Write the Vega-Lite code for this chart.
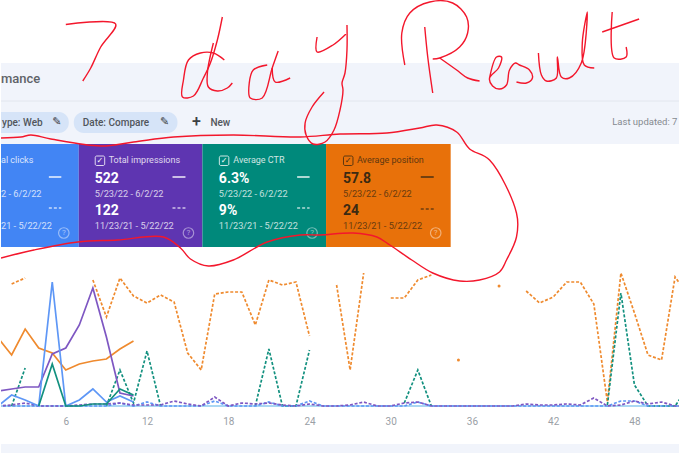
{
  "$schema": "https://vega.github.io/schema/vega-lite/v6.json",
  "width": 680,
  "height": 453,
  "padding": 0,
  "autosize": {"type": "fit", "contains": "padding"},
  "background": "#ffffff",
  "config": {"view": {"stroke": null}, "text": {"font": "Roboto"}},
  "datasets": {
    "bands": [
      {"part": "header", "x": 0, "x2": 680, "y": 63, "y2": 144},
      {"part": "footer", "x": 0, "x2": 680, "y": 444, "y2": 453}
    ],
    "cards": [
      {"card": "Clicks", "x": 0, "x2": 78, "y": 144, "y2": 247},
      {"card": "Impressions", "x": 78, "x2": 202, "y": 144, "y2": 247},
      {"card": "CTR", "x": 202, "x2": 326, "y": 144, "y2": 247},
      {"card": "Position", "x": 326, "x2": 451, "y": 144, "y2": 247}
    ],
    "pills": [
      {"label": "Type", "x": -30, "x2": 68, "y": 112, "y2": 133},
      {"label": "Date", "x": 73, "x2": 177, "y": 112, "y2": 133}
    ],
    "toolbar": [
      {"label": "ype: Web", "x": 1, "y": 122.5},
      {"label": "Date: Compare", "x": 82, "y": 122.5},
      {"label": "New", "x": 210, "y": 122.5}
    ],
    "pencils": [
      {"label": "✎", "x": 56, "y": 122},
      {"label": "✎", "x": 164, "y": 122}
    ],
    "checks": [
      {"card": "Impressions", "x": 94.5, "x2": 104, "y": 156, "y2": 165.5, "mx": 99.2, "my": 160.7},
      {"card": "CTR", "x": 219, "x2": 228.5, "y": 156, "y2": 165.5, "mx": 223.7, "my": 160.7},
      {"card": "Position", "x": 343.5, "x2": 353, "y": 156, "y2": 165.5, "mx": 348.2, "my": 160.7}
    ],
    "cardText": [
      {"card": "Clicks", "role": "title", "label": "al clicks", "x": 0, "y": 160},
      {"card": "Clicks", "role": "date", "label": "2 - 6/2/22", "x": 0, "y": 193.5},
      {"card": "Clicks", "role": "date", "label": "21 - 5/22/22", "x": 0, "y": 225.5},
      {"card": "Impressions", "role": "title", "label": "Total impressions", "x": 108, "y": 160},
      {"card": "Impressions", "role": "value", "label": "522", "x": 94, "y": 178.5},
      {"card": "Impressions", "role": "date", "label": "5/23/22 - 6/2/22", "x": 94, "y": 193.5},
      {"card": "Impressions", "role": "value", "label": "122", "x": 94, "y": 211},
      {"card": "Impressions", "role": "date", "label": "11/23/21 - 5/22/22", "x": 94, "y": 225.5},
      {"card": "CTR", "role": "title", "label": "Average CTR", "x": 233, "y": 160},
      {"card": "CTR", "role": "value", "label": "6.3%", "x": 218.5, "y": 178.5},
      {"card": "CTR", "role": "date", "label": "5/23/22 - 6/2/22", "x": 218.5, "y": 193.5},
      {"card": "CTR", "role": "value", "label": "9%", "x": 218.5, "y": 211},
      {"card": "CTR", "role": "date", "label": "11/23/21 - 5/22/22", "x": 218.5, "y": 225.5},
      {"card": "Position", "role": "title", "label": "Average position", "x": 357, "y": 160},
      {"card": "Position", "role": "value", "label": "57.8", "x": 343, "y": 178.5},
      {"card": "Position", "role": "date", "label": "5/23/22 - 6/2/22", "x": 343, "y": 193.5},
      {"card": "Position", "role": "value", "label": "24", "x": 343, "y": 211},
      {"card": "Position", "role": "date", "label": "11/23/21 - 5/22/22", "x": 343, "y": 225.5}
    ],
    "dashes": [
      {"card": "Clicks", "x": 48, "x2": 60.5, "solidY": 177, "dotY": 208, "helpX": 63, "helpY": 233},
      {"card": "Impressions", "x": 172, "x2": 185, "solidY": 177, "dotY": 208, "helpX": 188, "helpY": 233},
      {"card": "CTR", "x": 297, "x2": 309.5, "solidY": 177, "dotY": 208, "helpX": 312, "helpY": 233},
      {"card": "Position", "x": 421, "x2": 434, "solidY": 177, "dotY": 209, "helpX": 436, "helpY": 233}
    ],
    "series": [
      {"day": 1, "metric": "position", "period": "current", "value": 68},
      {"day": 2, "metric": "position", "period": "current", "value": 51},
      {"day": 3, "metric": "position", "period": "current", "value": 77},
      {"day": 4, "metric": "position", "period": "current", "value": 58},
      {"day": 5, "metric": "position", "period": "current", "value": 53},
      {"day": 6, "metric": "position", "period": "current", "value": 36},
      {"day": 7, "metric": "position", "period": "current", "value": 42},
      {"day": 8, "metric": "position", "period": "current", "value": 45},
      {"day": 9, "metric": "position", "period": "current", "value": 47},
      {"day": 10, "metric": "position", "period": "current", "value": 57},
      {"day": 11, "metric": "position", "period": "current", "value": 65},
      {"day": 1, "metric": "impressions", "period": "current", "value": 15},
      {"day": 2, "metric": "impressions", "period": "current", "value": 17},
      {"day": 3, "metric": "impressions", "period": "current", "value": 19},
      {"day": 4, "metric": "impressions", "period": "current", "value": 19},
      {"day": 5, "metric": "impressions", "period": "current", "value": 52},
      {"day": 6, "metric": "impressions", "period": "current", "value": 58},
      {"day": 7, "metric": "impressions", "period": "current", "value": 81},
      {"day": 8, "metric": "impressions", "period": "current", "value": 118},
      {"day": 9, "metric": "impressions", "period": "current", "value": 69},
      {"day": 10, "metric": "impressions", "period": "current", "value": 13},
      {"day": 11, "metric": "impressions", "period": "current", "value": 10},
      {"day": 1, "metric": "clicks", "period": "current", "value": 0},
      {"day": 2, "metric": "clicks", "period": "current", "value": 11},
      {"day": 3, "metric": "clicks", "period": "current", "value": 6},
      {"day": 4, "metric": "clicks", "period": "current", "value": 0},
      {"day": 5, "metric": "clicks", "period": "current", "value": 124},
      {"day": 6, "metric": "clicks", "period": "current", "value": 0},
      {"day": 7, "metric": "clicks", "period": "current", "value": 6},
      {"day": 8, "metric": "clicks", "period": "current", "value": 17},
      {"day": 9, "metric": "clicks", "period": "current", "value": 4},
      {"day": 10, "metric": "clicks", "period": "current", "value": 10},
      {"day": 11, "metric": "clicks", "period": "current", "value": 4},
      {"day": 4, "metric": "ctr", "period": "current", "value": 0},
      {"day": 5, "metric": "ctr", "period": "current", "value": 42},
      {"day": 6, "metric": "ctr", "period": "current", "value": 0},
      {"day": 7, "metric": "ctr", "period": "current", "value": 0},
      {"day": 8, "metric": "ctr", "period": "current", "value": 2},
      {"day": 9, "metric": "ctr", "period": "current", "value": 2},
      {"day": 10, "metric": "ctr", "period": "current", "value": 17},
      {"day": 11, "metric": "ctr", "period": "current", "value": 11},

      {"day": 2, "metric": "position", "period": "previous", "value": 122},
      {"day": 3, "metric": "position", "period": "previous", "value": 128},
      {"day": 4, "metric": "position", "period": "previous", "value": null},
      {"day": 8, "metric": "position", "period": "previous", "value": 126},
      {"day": 9, "metric": "position", "period": "previous", "value": 89},
      {"day": 10, "metric": "position", "period": "previous", "value": 128},
      {"day": 11, "metric": "position", "period": "previous", "value": 110},
      {"day": 12, "metric": "position", "period": "previous", "value": 103},
      {"day": 13, "metric": "position", "period": "previous", "value": 111},
      {"day": 14, "metric": "position", "period": "previous", "value": 104},
      {"day": 15, "metric": "position", "period": "previous", "value": 53},
      {"day": 16, "metric": "position", "period": "previous", "value": 36},
      {"day": 17, "metric": "position", "period": "previous", "value": 112},
      {"day": 18, "metric": "position", "period": "previous", "value": 114},
      {"day": 19, "metric": "position", "period": "previous", "value": 114},
      {"day": 20, "metric": "position", "period": "previous", "value": 81},
      {"day": 21, "metric": "position", "period": "previous", "value": 126},
      {"day": 22, "metric": "position", "period": "previous", "value": 121},
      {"day": 23, "metric": "position", "period": "previous", "value": 124},
      {"day": 24, "metric": "position", "period": "previous", "value": 70},
      {"day": 25, "metric": "position", "period": "previous", "value": null},
      {"day": 26, "metric": "position", "period": "previous", "value": 121},
      {"day": 27, "metric": "position", "period": "previous", "value": 36},
      {"day": 28, "metric": "position", "period": "previous", "value": 133},
      {"day": 29, "metric": "position", "period": "previous", "value": null},
      {"day": 30, "metric": "position", "period": "previous", "value": 108},
      {"day": 31, "metric": "position", "period": "previous", "value": 108},
      {"day": 32, "metric": "position", "period": "previous", "value": 126},
      {"day": 33, "metric": "position", "period": "previous", "value": 131},
      {"day": 34, "metric": "position", "period": "previous", "value": null},
      {"day": 35, "metric": "position", "period": "previous", "value": 46},
      {"day": 36, "metric": "position", "period": "previous", "value": null},
      {"day": 38, "metric": "position", "period": "previous", "value": 120},
      {"day": 39, "metric": "position", "period": "previous", "value": null},
      {"day": 40, "metric": "position", "period": "previous", "value": 115},
      {"day": 41, "metric": "position", "period": "previous", "value": 103},
      {"day": 42, "metric": "position", "period": "previous", "value": 109},
      {"day": 43, "metric": "position", "period": "previous", "value": 124},
      {"day": 44, "metric": "position", "period": "previous", "value": 124},
      {"day": 45, "metric": "position", "period": "previous", "value": 102},
      {"day": 46, "metric": "position", "period": "previous", "value": 4},
      {"day": 47, "metric": "position", "period": "previous", "value": 133},
      {"day": 48, "metric": "position", "period": "previous", "value": 93},
      {"day": 49, "metric": "position", "period": "previous", "value": 51},
      {"day": 50, "metric": "position", "period": "previous", "value": 46},
      {"day": 51, "metric": "position", "period": "previous", "value": 129},
      {"day": 52, "metric": "position", "period": "previous", "value": 110},

      {"day": 2, "metric": "ctr", "period": "previous", "value": 0},
      {"day": 3, "metric": "ctr", "period": "previous", "value": 38},
      {"day": 4, "metric": "ctr", "period": "previous", "value": null},
      {"day": 9, "metric": "ctr", "period": "previous", "value": 0},
      {"day": 10, "metric": "ctr", "period": "previous", "value": 36},
      {"day": 11, "metric": "ctr", "period": "previous", "value": 3},
      {"day": 12, "metric": "ctr", "period": "previous", "value": 55},
      {"day": 13, "metric": "ctr", "period": "previous", "value": 0},
      {"day": 14, "metric": "ctr", "period": "previous", "value": null},
      {"day": 20, "metric": "ctr", "period": "previous", "value": 0},
      {"day": 21, "metric": "ctr", "period": "previous", "value": 57},
      {"day": 22, "metric": "ctr", "period": "previous", "value": 0},
      {"day": 23, "metric": "ctr", "period": "previous", "value": 0},
      {"day": 24, "metric": "ctr", "period": "previous", "value": 56},
      {"day": 25, "metric": "ctr", "period": "previous", "value": null},
      {"day": 31, "metric": "ctr", "period": "previous", "value": 3},
      {"day": 32, "metric": "ctr", "period": "previous", "value": 36},
      {"day": 33, "metric": "ctr", "period": "previous", "value": 0},
      {"day": 34, "metric": "ctr", "period": "previous", "value": null},
      {"day": 46, "metric": "ctr", "period": "previous", "value": 1},
      {"day": 47, "metric": "ctr", "period": "previous", "value": 113},
      {"day": 48, "metric": "ctr", "period": "previous", "value": 21},
      {"day": 49, "metric": "ctr", "period": "previous", "value": 0},
      {"day": 50, "metric": "ctr", "period": "previous", "value": 0},
      {"day": 51, "metric": "ctr", "period": "previous", "value": 0},
      {"day": 52, "metric": "ctr", "period": "previous", "value": 20},

      {"day": 1, "metric": "clicks", "period": "previous", "value": 0},
      {"day": 9, "metric": "clicks", "period": "previous", "value": 0},
      {"day": 10, "metric": "clicks", "period": "previous", "value": 3},
      {"day": 11, "metric": "clicks", "period": "previous", "value": 0},
      {"day": 12, "metric": "clicks", "period": "previous", "value": 4},
      {"day": 13, "metric": "clicks", "period": "previous", "value": 0},
      {"day": 16, "metric": "clicks", "period": "previous", "value": 0},
      {"day": 17, "metric": "clicks", "period": "previous", "value": 5},
      {"day": 18, "metric": "clicks", "period": "previous", "value": 0},
      {"day": 20, "metric": "clicks", "period": "previous", "value": 0},
      {"day": 21, "metric": "clicks", "period": "previous", "value": 4},
      {"day": 22, "metric": "clicks", "period": "previous", "value": 0},
      {"day": 23, "metric": "clicks", "period": "previous", "value": 0},
      {"day": 24, "metric": "clicks", "period": "previous", "value": 5},
      {"day": 25, "metric": "clicks", "period": "previous", "value": 0},
      {"day": 31, "metric": "clicks", "period": "previous", "value": 0},
      {"day": 32, "metric": "clicks", "period": "previous", "value": 4},
      {"day": 33, "metric": "clicks", "period": "previous", "value": 0},
      {"day": 46, "metric": "clicks", "period": "previous", "value": 0},
      {"day": 47, "metric": "clicks", "period": "previous", "value": 5},
      {"day": 48, "metric": "clicks", "period": "previous", "value": 5},
      {"day": 49, "metric": "clicks", "period": "previous", "value": 0},
      {"day": 52, "metric": "clicks", "period": "previous", "value": 0},

      {"day": 1, "metric": "impressions", "period": "previous", "value": 0},
      {"day": 2, "metric": "impressions", "period": "previous", "value": 1},
      {"day": 3, "metric": "impressions", "period": "previous", "value": 3},
      {"day": 4, "metric": "impressions", "period": "previous", "value": 0},
      {"day": 6, "metric": "impressions", "period": "previous", "value": 0},
      {"day": 7, "metric": "impressions", "period": "previous", "value": 1},
      {"day": 8, "metric": "impressions", "period": "previous", "value": 2},
      {"day": 9, "metric": "impressions", "period": "previous", "value": 2},
      {"day": 10, "metric": "impressions", "period": "previous", "value": 3},
      {"day": 11, "metric": "impressions", "period": "previous", "value": 1},
      {"day": 12, "metric": "impressions", "period": "previous", "value": 1},
      {"day": 13, "metric": "impressions", "period": "previous", "value": 1},
      {"day": 14, "metric": "impressions", "period": "previous", "value": 5},
      {"day": 15, "metric": "impressions", "period": "previous", "value": 2},
      {"day": 16, "metric": "impressions", "period": "previous", "value": 0},
      {"day": 17, "metric": "impressions", "period": "previous", "value": 9},
      {"day": 18, "metric": "impressions", "period": "previous", "value": 0},
      {"day": 19, "metric": "impressions", "period": "previous", "value": 3},
      {"day": 20, "metric": "impressions", "period": "previous", "value": 2},
      {"day": 21, "metric": "impressions", "period": "previous", "value": 3},
      {"day": 22, "metric": "impressions", "period": "previous", "value": 1},
      {"day": 23, "metric": "impressions", "period": "previous", "value": 0},
      {"day": 24, "metric": "impressions", "period": "previous", "value": 2},
      {"day": 25, "metric": "impressions", "period": "previous", "value": 0},
      {"day": 26, "metric": "impressions", "period": "previous", "value": 0},
      {"day": 27, "metric": "impressions", "period": "previous", "value": 1},
      {"day": 28, "metric": "impressions", "period": "previous", "value": 4},
      {"day": 29, "metric": "impressions", "period": "previous", "value": 0},
      {"day": 30, "metric": "impressions", "period": "previous", "value": 0},
      {"day": 31, "metric": "impressions", "period": "previous", "value": 3},
      {"day": 32, "metric": "impressions", "period": "previous", "value": 4},
      {"day": 33, "metric": "impressions", "period": "previous", "value": 0},
      {"day": 39, "metric": "impressions", "period": "previous", "value": 0},
      {"day": 40, "metric": "impressions", "period": "previous", "value": 2},
      {"day": 41, "metric": "impressions", "period": "previous", "value": 1},
      {"day": 42, "metric": "impressions", "period": "previous", "value": 1},
      {"day": 43, "metric": "impressions", "period": "previous", "value": 2},
      {"day": 44, "metric": "impressions", "period": "previous", "value": 1},
      {"day": 45, "metric": "impressions", "period": "previous", "value": 8},
      {"day": 46, "metric": "impressions", "period": "previous", "value": 0},
      {"day": 47, "metric": "impressions", "period": "previous", "value": 1},
      {"day": 48, "metric": "impressions", "period": "previous", "value": 5},
      {"day": 49, "metric": "impressions", "period": "previous", "value": 2},
      {"day": 50, "metric": "impressions", "period": "previous", "value": 4},
      {"day": 51, "metric": "impressions", "period": "previous", "value": 0},
      {"day": 52, "metric": "impressions", "period": "previous", "value": 0}
    ],
    "ink": [
      {"stroke": "seven", "seq": 1, "x": 65, "y": 24.5},
      {"stroke": "seven", "seq": 2, "x": 115, "y": 24},
      {"stroke": "seven", "seq": 3, "x": 100, "y": 47},
      {"stroke": "seven", "seq": 4, "x": 90, "y": 68},
      {"stroke": "seven", "seq": 5, "x": 82, "y": 81},
      {"stroke": "d1", "seq": 1, "x": 222, "y": 17},
      {"stroke": "d1", "seq": 2, "x": 217, "y": 40},
      {"stroke": "d1", "seq": 3, "x": 210, "y": 63},
      {"stroke": "d1", "seq": 4, "x": 203, "y": 78},
      {"stroke": "d1", "seq": 5, "x": 193, "y": 96},
      {"stroke": "d1", "seq": 6, "x": 182, "y": 97},
      {"stroke": "d1", "seq": 7, "x": 183, "y": 80},
      {"stroke": "d1", "seq": 8, "x": 188, "y": 60},
      {"stroke": "d1", "seq": 9, "x": 200, "y": 53},
      {"stroke": "d1", "seq": 10, "x": 213, "y": 53},
      {"stroke": "d1", "seq": 11, "x": 224, "y": 60},
      {"stroke": "d2", "seq": 1, "x": 213, "y": 43},
      {"stroke": "d2", "seq": 2, "x": 207, "y": 73},
      {"stroke": "d2", "seq": 3, "x": 208, "y": 87},
      {"stroke": "d2", "seq": 4, "x": 217, "y": 91},
      {"stroke": "d2", "seq": 5, "x": 227, "y": 88},
      {"stroke": "d2", "seq": 6, "x": 232, "y": 83},
      {"stroke": "a1", "seq": 1, "x": 278, "y": 51},
      {"stroke": "a1", "seq": 2, "x": 272, "y": 68},
      {"stroke": "a1", "seq": 3, "x": 262, "y": 98},
      {"stroke": "a1", "seq": 4, "x": 250, "y": 98},
      {"stroke": "a1", "seq": 5, "x": 249, "y": 83},
      {"stroke": "a1", "seq": 6, "x": 253, "y": 70},
      {"stroke": "a1", "seq": 7, "x": 267, "y": 65},
      {"stroke": "a2", "seq": 1, "x": 272, "y": 68},
      {"stroke": "a2", "seq": 2, "x": 275, "y": 82},
      {"stroke": "a2", "seq": 3, "x": 290, "y": 78},
      {"stroke": "y1", "seq": 1, "x": 317, "y": 37},
      {"stroke": "y1", "seq": 2, "x": 317, "y": 52},
      {"stroke": "y1", "seq": 3, "x": 333, "y": 45},
      {"stroke": "y1", "seq": 4, "x": 346, "y": 34},
      {"stroke": "y2", "seq": 1, "x": 347, "y": 25},
      {"stroke": "y2", "seq": 2, "x": 347, "y": 50},
      {"stroke": "y2", "seq": 3, "x": 345, "y": 73},
      {"stroke": "y2", "seq": 4, "x": 342, "y": 83},
      {"stroke": "y2", "seq": 5, "x": 343, "y": 90},
      {"stroke": "y2", "seq": 6, "x": 340, "y": 110},
      {"stroke": "y2", "seq": 7, "x": 334, "y": 130},
      {"stroke": "y2", "seq": 8, "x": 325, "y": 142},
      {"stroke": "y2", "seq": 9, "x": 313, "y": 144},
      {"stroke": "y2", "seq": 10, "x": 306, "y": 135},
      {"stroke": "y2", "seq": 11, "x": 305, "y": 123},
      {"stroke": "y2", "seq": 12, "x": 312, "y": 107},
      {"stroke": "y2", "seq": 13, "x": 324, "y": 92},
      {"stroke": "r1", "seq": 1, "x": 405, "y": 65},
      {"stroke": "r1", "seq": 2, "x": 402, "y": 33},
      {"stroke": "r1", "seq": 3, "x": 410, "y": 13},
      {"stroke": "r1", "seq": 4, "x": 430, "y": 2},
      {"stroke": "r1", "seq": 5, "x": 453, "y": 3},
      {"stroke": "r1", "seq": 6, "x": 467, "y": 17},
      {"stroke": "r1", "seq": 7, "x": 468, "y": 33},
      {"stroke": "r1", "seq": 8, "x": 460, "y": 47},
      {"stroke": "r1", "seq": 9, "x": 440, "y": 58},
      {"stroke": "r1", "seq": 10, "x": 433, "y": 59},
      {"stroke": "r2", "seq": 1, "x": 425, "y": 27},
      {"stroke": "r2", "seq": 2, "x": 428, "y": 57},
      {"stroke": "r2", "seq": 3, "x": 433, "y": 93},
      {"stroke": "r3", "seq": 1, "x": 440, "y": 58},
      {"stroke": "r3", "seq": 2, "x": 457, "y": 70},
      {"stroke": "r3", "seq": 3, "x": 468, "y": 78},
      {"stroke": "r3", "seq": 4, "x": 480, "y": 81},
      {"stroke": "esul", "seq": 1, "x": 490, "y": 78},
      {"stroke": "esul", "seq": 2, "x": 497, "y": 57},
      {"stroke": "esul", "seq": 3, "x": 502, "y": 57},
      {"stroke": "esul", "seq": 4, "x": 499, "y": 68},
      {"stroke": "esul", "seq": 5, "x": 490, "y": 78},
      {"stroke": "esul", "seq": 6, "x": 493, "y": 86},
      {"stroke": "esul", "seq": 7, "x": 500, "y": 89},
      {"stroke": "esul", "seq": 8, "x": 507, "y": 85},
      {"stroke": "esul", "seq": 9, "x": 510, "y": 70},
      {"stroke": "esul", "seq": 10, "x": 516, "y": 63},
      {"stroke": "esul", "seq": 11, "x": 520, "y": 65},
      {"stroke": "esul", "seq": 12, "x": 530, "y": 70},
      {"stroke": "esul", "seq": 13, "x": 533, "y": 78},
      {"stroke": "esul", "seq": 14, "x": 527, "y": 83},
      {"stroke": "esul", "seq": 15, "x": 517, "y": 82},
      {"stroke": "ult", "seq": 1, "x": 539, "y": 53},
      {"stroke": "ult", "seq": 2, "x": 542, "y": 75},
      {"stroke": "ult", "seq": 3, "x": 547, "y": 81},
      {"stroke": "ult", "seq": 4, "x": 557, "y": 78},
      {"stroke": "ult", "seq": 5, "x": 558, "y": 57},
      {"stroke": "ult", "seq": 6, "x": 562, "y": 77},
      {"stroke": "ult", "seq": 7, "x": 570, "y": 78},
      {"stroke": "ult", "seq": 8, "x": 582, "y": 63},
      {"stroke": "ult", "seq": 9, "x": 588, "y": 12},
      {"stroke": "ult", "seq": 10, "x": 583, "y": 43},
      {"stroke": "ult", "seq": 11, "x": 585, "y": 65},
      {"stroke": "ult", "seq": 12, "x": 595, "y": 68},
      {"stroke": "t1", "seq": 1, "x": 613, "y": 12},
      {"stroke": "t1", "seq": 2, "x": 615, "y": 58},
      {"stroke": "t1", "seq": 3, "x": 627, "y": 57},
      {"stroke": "t1", "seq": 4, "x": 627, "y": 47},
      {"stroke": "t2", "seq": 1, "x": 603, "y": 32},
      {"stroke": "t2", "seq": 2, "x": 640, "y": 19},
      {"stroke": "loop", "seq": 1, "x": 0, "y": 138},
      {"stroke": "loop", "seq": 2, "x": 20, "y": 137},
      {"stroke": "loop", "seq": 3, "x": 30, "y": 135},
      {"stroke": "loop", "seq": 4, "x": 50, "y": 139},
      {"stroke": "loop", "seq": 5, "x": 100, "y": 146},
      {"stroke": "loop", "seq": 6, "x": 133, "y": 142},
      {"stroke": "loop", "seq": 7, "x": 173, "y": 137},
      {"stroke": "loop", "seq": 8, "x": 233, "y": 135},
      {"stroke": "loop", "seq": 9, "x": 300, "y": 137},
      {"stroke": "loop", "seq": 10, "x": 340, "y": 134},
      {"stroke": "loop", "seq": 11, "x": 387, "y": 133},
      {"stroke": "loop", "seq": 12, "x": 420, "y": 128},
      {"stroke": "loop", "seq": 13, "x": 437, "y": 125},
      {"stroke": "loop", "seq": 14, "x": 457, "y": 132},
      {"stroke": "loop", "seq": 15, "x": 470, "y": 149},
      {"stroke": "loop", "seq": 16, "x": 490, "y": 160},
      {"stroke": "loop", "seq": 17, "x": 517, "y": 213},
      {"stroke": "loop", "seq": 18, "x": 517, "y": 237},
      {"stroke": "loop", "seq": 19, "x": 507, "y": 260},
      {"stroke": "loop", "seq": 20, "x": 500, "y": 272},
      {"stroke": "loop", "seq": 21, "x": 480, "y": 280},
      {"stroke": "loop", "seq": 22, "x": 460, "y": 281},
      {"stroke": "loop", "seq": 23, "x": 433, "y": 273},
      {"stroke": "loop", "seq": 24, "x": 412, "y": 260},
      {"stroke": "loop", "seq": 25, "x": 390, "y": 245},
      {"stroke": "loop", "seq": 26, "x": 377, "y": 237},
      {"stroke": "loop", "seq": 27, "x": 353, "y": 233},
      {"stroke": "loop", "seq": 28, "x": 320, "y": 235},
      {"stroke": "loop", "seq": 29, "x": 300, "y": 235},
      {"stroke": "loop", "seq": 30, "x": 267, "y": 242},
      {"stroke": "loop", "seq": 31, "x": 233, "y": 260},
      {"stroke": "loop", "seq": 32, "x": 208, "y": 266},
      {"stroke": "loop", "seq": 33, "x": 190, "y": 259},
      {"stroke": "loop", "seq": 34, "x": 180, "y": 248},
      {"stroke": "loop", "seq": 35, "x": 163, "y": 237},
      {"stroke": "loop", "seq": 36, "x": 117, "y": 240},
      {"stroke": "loop", "seq": 37, "x": 77, "y": 242},
      {"stroke": "loop", "seq": 38, "x": 33, "y": 250},
      {"stroke": "loop", "seq": 39, "x": 0, "y": 258}
    ]
  },
  "resolve": {"scale": {"x": "independent", "y": "independent", "color": "independent"}},
  "layer": [
    {
      "encoding": {
        "x": {"field": "x", "type": "quantitative", "scale": {"domain": [0, 680], "nice": false, "zero": false}, "axis": null},
        "y": {"field": "y", "type": "quantitative", "scale": {"domain": [453, 0], "nice": false, "zero": false}, "axis": null}
      },
      "layer": [
        {
          "data": {"name": "bands"},
          "mark": {"type": "rect", "fill": "#f1f4fb"},
          "encoding": {"x2": {"field": "x2"}, "y2": {"field": "y2"}}
        },
        {
          "data": {"name": "bands"},
          "transform": [{"filter": "datum.part === 'header'"}],
          "mark": {"type": "rule", "stroke": "#e2e6ee", "strokeWidth": 1},
          "encoding": {"x2": {"field": "x2"}, "y": {"datum": 101}}
        },
        {
          "data": {"name": "pills"},
          "mark": {"type": "rect", "fill": "#d6e4f8", "cornerRadius": 10, "clip": true},
          "encoding": {"x2": {"field": "x2"}, "y2": {"field": "y2"}}
        },
        {
          "data": {"values": [{"label": "mance", "x": 0, "y": 79}]},
          "mark": {"type": "text", "align": "left", "baseline": "middle", "fontSize": 13, "fontWeight": 500, "fill": "#5f6368"},
          "encoding": {"text": {"field": "label"}}
        },
        {
          "data": {"name": "toolbar"},
          "mark": {"type": "text", "align": "left", "baseline": "middle", "fontSize": 10, "fontWeight": 500, "fill": "#51565c"},
          "encoding": {"text": {"field": "label"}}
        },
        {
          "data": {"name": "pencils"},
          "mark": {"type": "text", "align": "center", "baseline": "middle", "fontSize": 11, "font": "DejaVu Sans", "fill": "#3c4043"},
          "encoding": {"text": {"field": "label"}}
        },
        {
          "data": {"values": [{"label": "+", "x": 196, "y": 121.5}]},
          "mark": {"type": "text", "align": "center", "baseline": "middle", "fontSize": 16, "fontWeight": 500, "fill": "#3c4043"},
          "encoding": {"text": {"field": "label"}}
        },
        {
          "data": {"values": [{"label": "Last updated: 7", "x": 613, "y": 122}]},
          "mark": {"type": "text", "align": "left", "baseline": "middle", "fontSize": 9.5, "fill": "#858a90"},
          "encoding": {"text": {"field": "label"}}
        },
        {
          "data": {"name": "cards"},
          "mark": {"type": "rect"},
          "encoding": {
            "x2": {"field": "x2"},
            "y2": {"field": "y2"},
            "fill": {"field": "card", "type": "nominal", "legend": null, "scale": {"domain": ["Clicks", "Impressions", "CTR", "Position"], "range": ["#4285f4", "#5e35b1", "#00897b", "#e8710a"]}}
          }
        },
        {
          "data": {"name": "checks"},
          "mark": {"type": "rect", "fillOpacity": 0, "strokeWidth": 1, "strokeOpacity": 0.8, "cornerRadius": 1.5},
          "encoding": {
            "x2": {"field": "x2"},
            "y2": {"field": "y2"},
            "stroke": {"field": "card", "type": "nominal", "legend": null, "scale": {"domain": ["Clicks", "Impressions", "CTR", "Position"], "range": ["#ffffff", "#ffffff", "#ffffff", "#3b2a12"]}}
          }
        },
        {
          "data": {"name": "checks"},
          "mark": {"type": "text", "align": "center", "baseline": "middle", "fontSize": 8, "font": "DejaVu Sans"},
          "encoding": {
            "x": {"field": "mx", "type": "quantitative"},
            "y": {"field": "my", "type": "quantitative"},
            "text": {"value": "✓"},
            "color": {"field": "card", "type": "nominal", "legend": null, "scale": {"domain": ["Clicks", "Impressions", "CTR", "Position"], "range": ["#ffffff", "#ffffff", "#ffffff", "#3b2a12"]}}
          }
        },
        {
          "data": {"name": "cardText"},
          "transform": [{"filter": "datum.role === 'title'"}],
          "mark": {"type": "text", "align": "left", "baseline": "middle", "fontSize": 9, "opacity": 0.8},
          "encoding": {
            "text": {"field": "label"},
            "color": {"field": "card", "type": "nominal", "legend": null}
          }
        },
        {
          "data": {"name": "cardText"},
          "transform": [{"filter": "datum.role === 'value'"}],
          "mark": {"type": "text", "align": "left", "baseline": "middle", "fontSize": 14, "fontWeight": 700},
          "encoding": {
            "text": {"field": "label"},
            "color": {"field": "card", "type": "nominal", "legend": null}
          }
        },
        {
          "data": {"name": "cardText"},
          "transform": [{"filter": "datum.role === 'date'"}],
          "mark": {"type": "text", "align": "left", "baseline": "middle", "fontSize": 9.2, "opacity": 0.75},
          "encoding": {
            "text": {"field": "label"},
            "color": {"field": "card", "type": "nominal", "legend": null}
          }
        },
        {
          "data": {"name": "dashes"},
          "mark": {"type": "rule", "strokeWidth": 1.6, "opacity": 0.85},
          "encoding": {
            "x2": {"field": "x2"},
            "y": {"field": "solidY", "type": "quantitative"},
            "color": {"field": "card", "type": "nominal", "legend": null}
          }
        },
        {
          "data": {"name": "dashes"},
          "mark": {"type": "rule", "strokeWidth": 1.6, "opacity": 0.7, "strokeDash": [3, 2]},
          "encoding": {
            "x2": {"field": "x2"},
            "y": {"field": "dotY", "type": "quantitative"},
            "color": {"field": "card", "type": "nominal", "legend": null}
          }
        },
        {
          "data": {"name": "dashes"},
          "mark": {"type": "point", "shape": "circle", "filled": false, "size": 110, "stroke": "#ffffff", "strokeWidth": 1.2, "opacity": 0.45},
          "encoding": {
            "x": {"field": "helpX", "type": "quantitative"},
            "y": {"field": "helpY", "type": "quantitative"}
          }
        },
        {
          "data": {"name": "dashes"},
          "mark": {"type": "text", "align": "center", "baseline": "middle", "fontSize": 8, "fill": "#ffffff", "opacity": 0.5},
          "encoding": {
            "x": {"field": "helpX", "type": "quantitative"},
            "y": {"field": "helpY", "type": "quantitative"},
            "text": {"value": "?"}
          }
        }
      ]
    },
    {
      "encoding": {
        "x": {
          "field": "day",
          "type": "quantitative",
          "scale": {"domain": [1.215, 51.29], "nice": false, "zero": false},
          "axis": {"values": [6, 12, 18, 24, 30, 36, 42, 48], "title": null, "orient": "bottom", "offset": -37, "domain": false, "ticks": false, "grid": false, "labelPadding": 0, "labelBaseline": "top", "labelColor": "#9aa0a6", "labelFontSize": 10, "labelFont": "Roboto", "labelFlush": false}
        },
        "y": {"field": "value", "type": "quantitative", "scale": {"domain": [-47, 406], "nice": false, "zero": false}, "axis": null},
        "color": {"field": "metric", "type": "nominal", "legend": null, "scale": {"domain": ["clicks", "impressions", "ctr", "position"], "range": ["#5e97f6", "#7e57c2", "#12907f", "#ef8a2e"]}}
      },
      "layer": [
        {
          "data": {"values": [{"day": 1.215, "value": 0}, {"day": 51.29, "value": 0}]},
          "mark": {"type": "line", "stroke": "#57b0e8", "strokeWidth": 1.2, "clip": true},
          "encoding": {"color": {"value": "#57b0e8"}}
        },
        {
          "data": {"name": "series"},
          "transform": [{"filter": "datum.period === 'previous'"}],
          "mark": {"type": "line", "strokeWidth": 1.7, "strokeDash": [3, 1.8], "clip": true}
        },
        {
          "data": {"name": "series"},
          "transform": [{"filter": "datum.period === 'previous' && (datum.day === 35 || datum.day === 38)"}],
          "mark": {"type": "point", "shape": "circle", "filled": true, "size": 9, "opacity": 1}
        },
        {
          "data": {"name": "series"},
          "transform": [{"filter": "datum.period === 'current'"}],
          "mark": {"type": "line", "strokeWidth": 1.7, "clip": true}
        }
      ]
    },
    {
      "data": {"name": "ink"},
      "mark": {"type": "line", "stroke": "#f3172c", "strokeWidth": 1.4, "interpolate": "catmull-rom", "clip": true},
      "encoding": {
        "x": {"field": "x", "type": "quantitative", "scale": {"domain": [0, 680], "nice": false, "zero": false}, "axis": null},
        "y": {"field": "y", "type": "quantitative", "scale": {"domain": [453, 0], "nice": false, "zero": false}, "axis": null},
        "detail": {"field": "stroke"},
        "order": {"field": "seq", "type": "quantitative"}
      }
    }
  ]
}
